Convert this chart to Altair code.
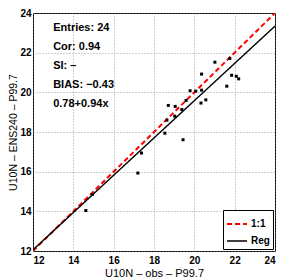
import altair as alt
import pandas as pd

obs = [21.02, 21.76, 20.36, 21.61, 21.85, 22.08, 22.20, 19.79, 20.07, 20.36, 20.33, 20.57,
       18.71, 19.05, 19.38, 19.03, 18.64, 18.54, 19.44, 17.38, 17.20, 14.62, 14.94, 19.59]
ens = [21.52, 21.71, 20.92, 20.31, 20.86, 20.81, 20.68, 20.08, 20.06, 20.11, 19.46, 19.62,
       19.34, 19.29, 19.13, 18.80, 18.60, 17.94, 17.61, 16.94, 15.93, 14.04, 14.85, 19.59]

line_names = ["1:1", "1:1", "Reg", "Reg"]
line_x = [12, 24, 12, 24]
line_y = [12, 24, 12 * 0.94 + 0.78, 24 * 0.94 + 0.78]

stat_text = ["Entries: 24", "Cor: 0.94", "SI: \u2013", "BIAS: \u22120.43", "0.78+0.94x"]
stat_x = [13.0] * 5
stat_y = [23.26, 22.3, 21.33, 20.35, 19.4]

ticks = [12, 14, 16, 18, 20, 22, 24]

pts = pd.DataFrame({"obs": obs, "ens": ens})
lines = pd.DataFrame({"name": line_names, "x": line_x, "y": line_y})
stats = pd.DataFrame({"t": stat_text, "x": stat_x, "y": stat_y})

xs = alt.Scale(domain=[12, 24], nice=False)
ys = alt.Scale(domain=[12, 24], nice=False)


def xax():
    return alt.Axis(values=ticks, title="U10N \u2013 obs \u2013 P99.7", grid=True, labelOverlap=False)


def yax():
    return alt.Axis(values=ticks, title="U10N \u2013 ENS240 \u2013 P99.7", grid=True, labelOverlap=False,
                    titleFontSize=10.5, labelPadding=2, titlePadding=1)


points = alt.Chart(pts).mark_square(size=9, color="black", opacity=1).encode(
    x=alt.X("obs:Q", scale=xs, axis=xax()),
    y=alt.Y("ens:Q", scale=ys, axis=yax()),
)

ln = alt.Chart(lines).mark_line(clip=True).encode(
    x=alt.X("x:Q", scale=xs, axis=xax()),
    y=alt.Y("y:Q", scale=ys, axis=yax()),
    color=alt.Color("name:N", scale=alt.Scale(domain=["1:1", "Reg"], range=["#ff0000", "#000000"]),
                    legend=alt.Legend(title=None)),
    strokeDash=alt.StrokeDash("name:N", scale=alt.Scale(domain=["1:1", "Reg"], range=[[5, 3], [1, 0]]),
                              legend=alt.Legend(title=None)),
    strokeWidth=alt.StrokeWidth("name:N", scale=alt.Scale(domain=["1:1", "Reg"], range=[2, 1.4]),
                                legend=None),
)

txt = alt.Chart(stats).mark_text(align="left", baseline="middle", font="Liberation Sans",
                                 fontWeight="bold", fontSize=11, color="black").encode(
    x=alt.X("x:Q", scale=xs, axis=xax()),
    y=alt.Y("y:Q", scale=ys, axis=yax()),
    text="t:N",
)

chart = alt.layer(ln, points, txt).properties(
    width=242, height=238,
    padding={"left": 25, "top": 5, "right": 1, "bottom": 28},
    autosize=alt.AutoSizeParams(type="none"),
).configure_view(stroke="black", strokeWidth=1).configure_axis(
    gridColor="#888888", gridDash=[1, 2], gridWidth=0.8, gridOpacity=1,
    domain=False, ticks=False,
    labelFont="Liberation Sans", labelFontSize=10, labelFontWeight="bold", labelColor="black",
    titleFont="Liberation Sans", titleFontSize=11, titleFontWeight="normal", titleColor="black",
    labelPadding=4,
).configure_axisX(titlePadding=2).configure_legend(
    orient="bottom-right", strokeColor="black", fillColor="white", padding=3, offset=2,
    symbolType="stroke", symbolSize=400, symbolStrokeWidth=2,
    labelFont="Liberation Sans", labelFontSize=10, labelFontWeight="bold", labelColor="black",
    rowPadding=1, cornerRadius=0, labelOffset=3,
)

chart.save("out.html", embed_options={"renderer": "svg", "actions": False})
